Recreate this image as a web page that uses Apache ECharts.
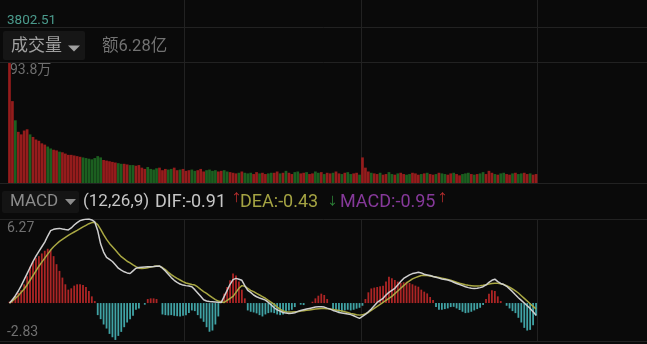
<!DOCTYPE html>
<html>
<head>
<meta charset="utf-8">
<script src="https://cdn.jsdelivr.net/npm/echarts@6/dist/echarts.min.js"></script>
<style>
html,body{margin:0;padding:0;background:#0a0a0a;}
#c{width:647px;height:344px;}
</style>
</head>
<body>
<div id="c"></div>
<script>
// ---- data ----
// full trading day of 240 one-minute slots; data covers the first 180
const categories = [];
for (let m = 1; m <= 240; m++) {
  let t = m <= 120 ? 9 * 60 + 30 + m : 13 * 60 + (m - 120);
  categories.push(String(Math.floor(t / 60)).padStart(2, '0') + ':' + String(t % 60).padStart(2, '0'));
}

// volume (万)
const volume = [
  93.8, 64, 49, 40, 38, 41, 42, 38, 36, 34,
  33, 31, 30, 28.5, 27, 26, 25.5, 24.5, 24, 23,
  22, 22, 21.5, 21, 20.5, 20, 19.5, 19, 18.5, 19.5,
  21, 20, 18, 17.5, 17, 16.5, 16, 15.5, 15, 15,
  14.5, 14, 14, 13.5, 14, 12, 11, 12.5, 11, 10.5,
  11.5, 12, 10, 11, 10.5, 11, 12, 10, 10.5, 11,
  9.5, 10, 10.5, 9.5, 10, 11, 9, 10, 10.5, 9.5,
  10, 9, 9.5, 10, 9, 8.5, 8, 7.5, 8, 9,
  8, 7.5, 8, 7, 8.5, 7.5, 8, 7, 7.5, 8,
  8, 9, 7.5, 8, 9.5, 8, 7, 8.5, 9, 7.5,
  8, 8.5, 7, 7.5, 9, 8, 8.5, 7, 8, 7.5,
  8, 9, 7.5, 7, 8, 8.5, 7, 7.5, 8, 6.5,
  20, 12, 9, 8, 7.5, 7, 8, 6.5, 7, 8.5,
  7, 6.5, 7.5, 8, 7, 6.5, 7, 8, 7.5, 6.5,
  7, 7.5, 8, 7, 6.5, 7, 8, 7.5, 7, 6.5,
  7.5, 8, 7, 6, 7, 7.5, 8, 7, 6.5, 7,
  7.5, 8.5, 7, 9.5, 8, 7, 6.5, 7.5, 8, 7,
  6.5, 7.5, 8, 7, 7.5, 8, 7, 7.5, 6.5, 7
];
// 1 = up (red), 0 = down (green)
const volumeUp = [
  1,1,0,1,1,1,1,0,1,1,
  1,1,1,0,0,1,1,0,1,1,
  1,1,1,1,1,0,0,0,0,0,
  0,0,1,1,1,1,1,0,0,1,
  1,0,0,1,1,1,1,0,0,0,
  0,1,1,1,0,0,1,1,0,1,
  1,1,0,0,1,1,1,0,0,0,
  0,1,1,0,0,1,1,1,0,1,
  0,0,0,1,1,0,1,1,0,0,
  1,1,0,1,0,1,1,0,0,1,
  1,0,1,1,0,0,1,0,1,1,
  0,1,1,0,1,0,0,1,1,0,
  1,1,1,0,1,1,0,1,1,0,
  0,1,0,1,1,0,0,1,1,1,
  0,1,0,1,1,0,1,0,0,1,
  1,0,1,1,0,0,0,1,0,1,
  0,0,1,1,1,0,1,0,0,1,
  1,0,1,0,0,1,1,0,1,1
];
const dif = [
  0, 0.25, 0.55, 0.9, 1.3, 1.75, 2.2, 2.65, 3.1, 3.5,
  3.85, 4.2, 4.55, 5.0, 5.4, 5.5, 5.55, 5.57, 5.52, 5.48,
  5.45, 5.6, 5.82, 6.0, 6.15, 6.22, 6.26, 6.27, 6.2, 6.05,
  5.4, 4.4, 3.8, 3.4, 3.25, 3.1, 2.85, 2.6, 2.45, 2.33,
  2.25, 2.2, 2.4, 2.6, 2.65, 2.68, 2.69, 2.7, 2.7, 2.72,
  2.75, 2.77, 2.6, 2.4, 2.15, 1.9, 1.7, 1.55, 1.42, 1.34,
  1.3, 1.27, 1.22, 1.0, 0.75, 0.5, 0.25, 0.15, 0.12, 0.1,
  0.08, 0.06, 0.05, 0.5, 0.95, 1.4, 1.75, 1.84, 1.78, 1.7,
  1.3, 0.95, 0.8, 0.6, 0.47, 0.38, 0.3, 0.22, 0.05, -0.15,
  -0.35, -0.5, -0.6, -0.7, -0.75, -0.78, -0.76, -0.72, -0.62, -0.55,
  -0.5, -0.45, -0.4, -0.35, -0.3, -0.28, -0.27, -0.3, -0.38, -0.45,
  -0.55, -0.62, -0.7, -0.74, -0.78, -0.82, -0.86, -0.95, -1.05, -1.14,
  -1.0, -0.85, -0.65, -0.45, -0.2, 0.05, 0.2, 0.35, 0.6, 0.8,
  0.95, 1.1, 1.35, 1.6, 1.84, 1.97, 2.1, 2.2, 2.25, 2.3,
  2.25, 2.15, 2.1, 2.05, 1.98, 1.92, 1.86, 1.8, 1.76, 1.72,
  1.65, 1.55, 1.46, 1.38, 1.3, 1.22, 1.15, 1.1, 1.09, 1.1,
  1.15, 1.22, 1.35, 1.55, 1.7, 1.78, 1.6, 1.46, 1.38, 1.25,
  1.05, 0.85, 0.62, 0.4, 0.2, 0.0, -0.2, -0.4, -0.65, -0.91
];
const dea = [
  0, 0.15, 0.35, 0.55, 0.8, 1.05, 1.35, 1.7, 2.05, 2.4,
  2.75, 3.05, 3.35, 3.65, 3.95, 4.2, 4.4, 4.6, 4.75, 4.9,
  5.05, 5.18, 5.3, 5.42, 5.55, 5.68, 5.8, 5.92, 6.0, 6.02,
  5.85, 5.5, 5.1, 4.75, 4.45, 4.2, 3.95, 3.7, 3.46, 3.3,
  3.12, 3.0, 2.85, 2.72, 2.6, 2.58, 2.6, 2.64, 2.68, 2.72,
  2.77, 2.74, 2.65, 2.5, 2.3, 2.12, 1.97, 1.84, 1.72, 1.6,
  1.5, 1.44, 1.38, 1.34, 1.2, 1.02, 0.86, 0.72, 0.56, 0.4,
  0.26, 0.15, 0.08, 0.05, 0.2, 0.35, 0.5, 0.8, 1.1, 1.3,
  1.25, 1.1, 0.95, 0.85, 0.72, 0.6, 0.48, 0.36, 0.2, 0.05,
  -0.1, -0.3, -0.45, -0.6, -0.65, -0.66, -0.66, -0.65, -0.64, -0.6,
  -0.57, -0.54, -0.52, -0.48, -0.45, -0.42, -0.4, -0.4, -0.42, -0.45,
  -0.48, -0.52, -0.56, -0.6, -0.65, -0.7, -0.77, -0.82, -0.87, -0.9,
  -0.88, -0.8, -0.7, -0.55, -0.4, -0.25, -0.1, 0.05, 0.2, 0.35,
  0.5, 0.7, 0.9, 1.1, 1.3, 1.5, 1.65, 1.8, 1.9, 1.98,
  2.05, 2.08, 2.06, 2.02, 1.98, 1.94, 1.9, 1.86, 1.82, 1.76,
  1.7, 1.63, 1.55, 1.48, 1.42, 1.36, 1.32, 1.3, 1.28, 1.28,
  1.3, 1.33, 1.37, 1.42, 1.46, 1.48, 1.47, 1.44, 1.38, 1.3,
  1.18, 1.05, 0.9, 0.75, 0.55, 0.35, 0.15, -0.05, -0.25, -0.43
];
const macd = [
  0.1, 0.3, 0.55, 0.75, 0.95, 1.4, 2.0, 2.7, 3.1, 3.35,
  3.5, 3.7, 3.9, 4.05, 4.0, 3.5, 2.9, 2.4, 1.9, 1.4,
  1.0, 1.1, 1.3, 1.4, 1.4, 1.35, 1.2, 0.9, 0.5, 0.15,
  -0.9, -1.2, -1.6, -1.9, -2.3, -2.55, -2.75, -2.45, -2.15, -1.8,
  -1.45, -1.2, -0.95, -0.5, -0.4, 0, -0.12, 0.3, 0.35, 0.35,
  0.3, 0, -0.85, -0.9, -0.92, -0.9, -0.95, -0.98, -1.0, -0.95,
  -0.9, -0.75, -0.55, -0.6, -0.9, -1.15, -1.4, -1.8, -2.14, -2.05,
  -1.6, -1.0, 0.2, 0.7, 1.2, 1.7, 2.2, 2.05, 1.6, 1.0,
  0.35, -0.55, -0.65, -0.7, -0.77, -0.9, -1.0, -0.85, -0.75, -0.7,
  -0.75, -0.85, -0.9, -0.85, -0.7, -0.55, -0.5, -0.3, 0, -0.12,
  -0.15, 0, 0, 0.1, 0.35, 0.55, 0.7, 0.6, 0.3, 0,
  -0.5, -0.65, -0.68, -0.65, -0.55, -0.5, -0.55, -0.5, -0.42, -0.35,
  -0.2, 0.3, 0.8, 1.09, 1.15, 1.2, 1.25, 1.3, 1.6, 1.97,
  1.85, 1.72, 1.6, 1.5, 1.55, 1.59, 1.5, 1.4, 1.3, 1.22,
  1.0, 0.85, 0.72, 0.45, 0.22, -0.3, -0.5, -0.5, -0.45, -0.4,
  -0.3, -0.28, -0.4, -0.52, -0.65, -0.75, -0.72, -0.65, -0.55, -0.45,
  -0.35, -0.15, 0.3, 0.7, 0.95, 0.9, 0.5, 0.15, 0, -0.2,
  -0.4, -0.6, -0.75, -1.1, -1.45, -1.85, -2.05, -2.0, -1.65, -0.95
];
const volMax = 93.8;
const macdMax = 6.27;
const macdMin = -2.83;

// ---- chart ----
const RED = '#951c1c', GREEN = '#1c5f20';
const MRED = '#ad2525', MTEAL = '#40a3a5';
const LINE = '#222222';
const FONT = 'Roboto, "Noto Sans CJK SC", sans-serif';

const splitX = {
  show: true,
  interval: function (i) { return i > 0 && i % 60 === 0; },
  lineStyle: { color: LINE, width: 1 }
};
function xAx(gi) {
  return {
    type: 'category', gridIndex: gi, data: categories, boundaryGap: true,
    axisLine: { show: false }, axisTick: { show: false }, axisLabel: { show: false },
    splitLine: splitX
  };
}
const chart = echarts.init(document.getElementById('c'), null, { renderer: 'canvas' });

const txt = (x, y, text, fill, size, extra) => Object.assign({
  type: 'text', x: x, y: y, silent: true, z: 10,
  style: { text: text, fill: fill, fontSize: size, fontFamily: FONT, verticalAlign: 'middle', align: 'left' }
}, extra || {});
const hline = (y) => ({ type: 'line', silent: true, z: 0, shape: { x1: 0, y1: y, x2: 647, y2: y }, style: { stroke: LINE, lineWidth: 1 } });

const gridBase = { left: 8, width: 706, outerBoundsMode: 'none', containLabel: false };
chart.setOption({
  backgroundColor: '#0a0a0a',
  animation: false,
  grid: [
    Object.assign({ top: 0, height: 62 }, gridBase),
    Object.assign({ top: 63, height: 120 }, gridBase),
    Object.assign({ top: 219, height: 122 }, gridBase)
  ],
  xAxis: [xAx(0), xAx(1), xAx(2)],
  yAxis: [
    { type: 'value', gridIndex: 0, show: false, min: 0, max: 1 },
    { type: 'value', gridIndex: 1, show: false, min: 0, max: volMax, splitLine: { show: false } },
    { type: 'value', gridIndex: 2, show: false, min: macdMin, max: macdMax, splitLine: { show: false } }
  ],
  series: [
    {
      type: 'bar', xAxisIndex: 1, yAxisIndex: 1, barCategoryGap: '8%', z: 2,
      data: volume.map((v, i) => ({ value: v, itemStyle: { color: volumeUp[i] ? RED : GREEN } }))
    },
    {
      type: 'bar', xAxisIndex: 2, yAxisIndex: 2, barWidth: 1.8, z: 2,
      data: macd.map(v => ({ value: v, itemStyle: { color: v >= 0 ? MRED : MTEAL } }))
    },
    {
      type: 'line', xAxisIndex: 2, yAxisIndex: 2, data: dea, showSymbol: false, z: 3,
      lineStyle: { color: '#a9a843', width: 1.5 }
    },
    {
      type: 'line', xAxisIndex: 2, yAxisIndex: 2, data: dif, showSymbol: false, z: 4,
      lineStyle: { color: '#cfcfcf', width: 1.5 }
    }
  ],
  graphic: [
    hline(27.5), hline(62.5), hline(183.5), hline(219.5), hline(341.5),
    { type: 'rect', silent: true, z: 5, shape: { x: 3, y: 31, width: 82, height: 29, r: 2 }, style: { fill: '#161616' } },
    { type: 'rect', silent: true, z: 5, shape: { x: 2, y: 191, width: 77, height: 22, r: 2 }, style: { fill: '#141414' } },
    txt(7, 21, '3802.51', '#4b9b8d', 13.5),
    txt(11, 47, '成交量', '#a0a0a0', 17),
    { type: 'polygon', silent: true, z: 10, shape: { points: [[68, 45.5], [80, 45.5], [74, 51.5]] }, style: { fill: '#a0a0a0' } },
    txt(102, 47, '额6.28亿', '#727272', 16.5),
    txt(10, 70, '93.8万', '#6e6e6e', 14, { z: 0 }),
    txt(10, 202, 'MACD', '#8c8c8c', 17),
    { type: 'polygon', silent: true, z: 10, shape: { points: [[65, 199], [76, 199], [70.5, 205]] }, style: { fill: '#8c8c8c' } },
    txt(83, 202, '(12,26,9)', '#c6c6c6', 17),
    txt(155, 202, 'DIF:-0.91', '#c6c6c6', 18),
    txt(231, 199, '↑', '#c23030', 11),
    txt(240, 202, 'DEA:-0.43', '#a4a343', 18),
    txt(327, 202, '↓', '#2f8a3a', 11),
    txt(340, 202, 'MACD:-0.95', '#86399a', 18),
    txt(437, 199, '↑', '#c23030', 11),
    txt(7, 228, '6.27', '#707070', 14),
    txt(7, 332.5, '-2.83', '#707070', 14)
  ]
});
</script>
</body>
</html>
